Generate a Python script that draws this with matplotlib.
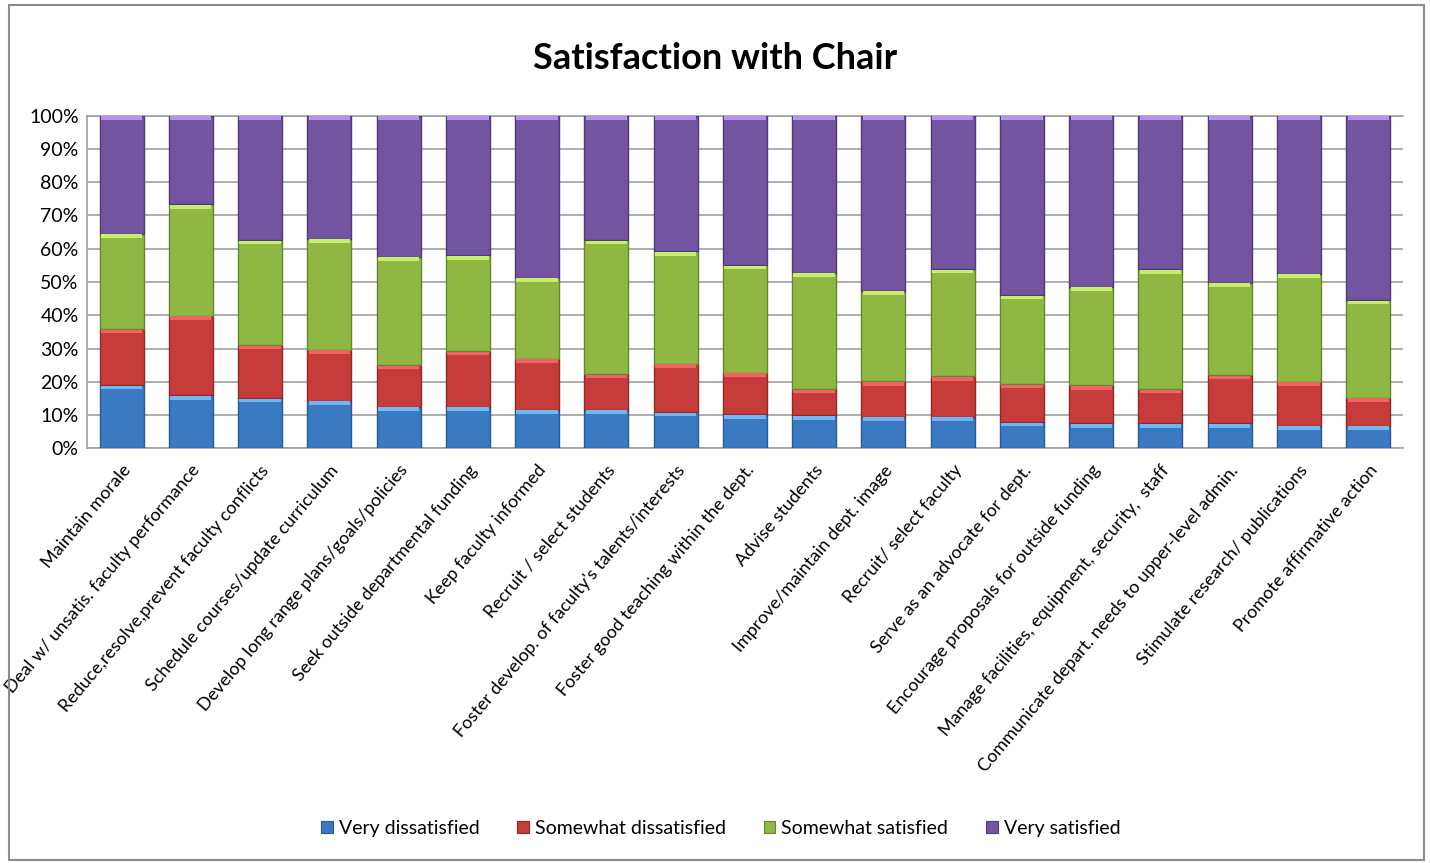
import matplotlib
matplotlib.use("Agg")
import matplotlib.pyplot as plt
import numpy as np
from matplotlib.patches import Rectangle

categories = [
    "Maintain morale",
    "Deal w/ unsatis. faculty performance",
    "Reduce,resolve,prevent faculty conflicts",
    "Schedule courses/update curriculum",
    "Develop long range plans/goals/policies",
    "Seek outside departmental funding",
    "Keep faculty informed",
    "Recruit / select students",
    "Foster develop. of faculty's talents/interests",
    "Foster good teaching within the dept.",
    "Advise students",
    "Improve/maintain dept. image",
    "Recruit/ select faculty",
    "Serve as an advocate for dept.",
    "Encourage proposals for outside funding",
    "Manage facilities, equipment, security,  staff",
    "Communicate depart. needs to upper-level admin.",
    "Stimulate research/ publications",
    "Promote affirmative action",
]

# cumulative boundaries (percent)
cum_very_dis = [19.0, 15.9, 15.1, 14.3, 12.5, 12.5, 11.6, 11.6, 10.9, 10.2, 9.9, 9.5, 9.5, 7.9, 7.5, 7.5, 7.5, 6.8, 6.8]
cum_some_dis = [35.8, 39.9, 31.0, 29.6, 25.0, 29.2, 27.0, 22.3, 25.4, 22.7, 17.8, 20.1, 21.6, 19.3, 18.9, 17.8, 22.0, 20.0, 15.2]
cum_some_sat = [64.5, 73.3, 62.6, 63.0, 57.6, 58.0, 51.2, 62.6, 59.2, 55.1, 52.8, 47.4, 53.9, 46.0, 48.6, 53.8, 49.8, 52.5, 44.5]

very_dissatisfied = np.array(cum_very_dis)
somewhat_dissatisfied = np.array(cum_some_dis) - np.array(cum_very_dis)
somewhat_satisfied = np.array(cum_some_sat) - np.array(cum_some_dis)
very_satisfied = 100.0 - np.array(cum_some_sat)

series_names = ["Very dissatisfied", "Somewhat dissatisfied", "Somewhat satisfied", "Very satisfied"]
series_values = [very_dissatisfied, somewhat_dissatisfied, somewhat_satisfied, very_satisfied]
body_colors = ["#3B79C3", "#C63C3A", "#8EB744", "#7254A0"]
light_colors = ["#70B8F2", "#F06464", "#C6EE6A", "#B592EC"]
edge_colors = ["#2A5A94", "#8E2A28", "#66862E", "#513A75"]

plt.rcParams['font.family'] = ['Lato', 'DejaVu Sans']

fig = plt.figure(figsize=(14.3, 8.63), dpi=100)
ax = fig.add_axes([0.0608, 0.4805, 0.9202, 0.3855])

x = np.arange(len(categories))
width = 0.635
bottom = np.zeros(len(categories))
handles = []
for vals, name, bc, lc, ec in zip(series_values, series_names, body_colors, light_colors, edge_colors):
    ax.bar(x, vals, width, bottom=bottom, color=bc, edgecolor=ec, linewidth=1.0,
           label=name, zorder=3)
    # top bevel highlight
    hl = np.minimum(vals, 1.1)
    ax.bar(x, hl, width * 0.94, bottom=bottom + vals - hl - 0.15,
           color=lc, linewidth=0, zorder=4)
    handles.append(Rectangle((0, 0), 1, 1, facecolor=bc, edgecolor=ec, linewidth=0.8))
    bottom = bottom + vals

ax.set_ylim(0, 100)
ax.set_xlim(-0.5, len(categories) - 0.5)
ax.set_yticks(np.arange(0, 101, 10))
ax.set_yticklabels([f"{v}%" for v in range(0, 101, 10)], fontsize=14)
ax.yaxis.grid(True, color="#A0A0A0", linewidth=1.2, zorder=0)
ax.set_axisbelow(True)
ax.tick_params(axis='y', length=0, pad=6)
ax.tick_params(axis='x', length=0, pad=10)
ax.set_xticks(x)
ax.set_xticklabels(categories, rotation=50, ha='right', rotation_mode='anchor', fontsize=13)
for side in ["left", "top", "bottom"]:
    ax.spines[side].set_color("#A0A0A0")
    ax.spines[side].set_linewidth(1.2)
ax.spines["right"].set_visible(False)

fig.text(0.5, 0.932, "Satisfaction with Chair", ha='center', va='center',
         fontsize=26, fontweight='bold')

fig.legend(handles, series_names, loc='center', bbox_to_anchor=(0.504, 0.04), ncol=4,
           frameon=False, fontsize=14, handlelength=0.6, handleheight=0.6,
           handletextpad=0.3, columnspacing=1.95)

fig.patches.append(Rectangle((0.006, 0.003), 0.99, 0.991, transform=fig.transFigure,
                             fill=False, edgecolor="#8C8C8C", linewidth=1.5))

fig.savefig("out.png", dpi=100, facecolor="white")
